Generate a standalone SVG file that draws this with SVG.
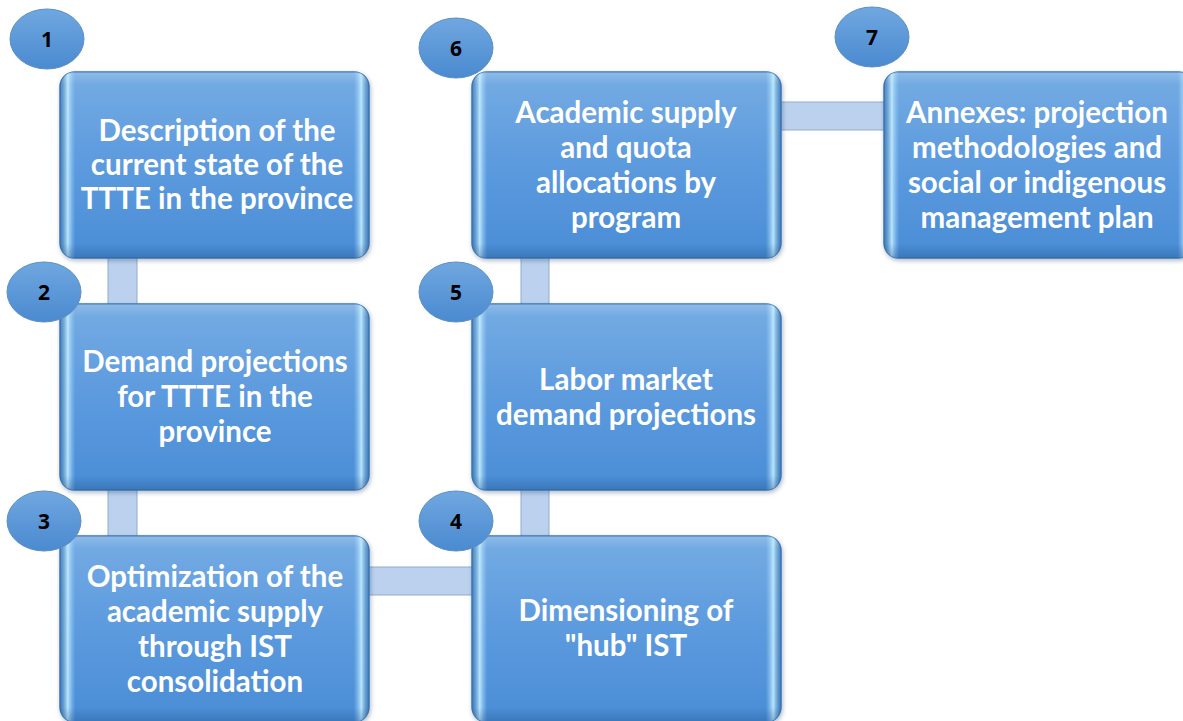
<svg xmlns="http://www.w3.org/2000/svg" width="1183" height="721" viewBox="0 0 1183 721">
  <defs>
    <linearGradient id="boxFill" x1="0" y1="0" x2="0" y2="1">
      <stop offset="0" stop-color="#75ace3"/>
      <stop offset="0.5" stop-color="#5c9ade"/>
      <stop offset="1" stop-color="#4a8dd6"/>
    </linearGradient>
    <linearGradient id="edgeGlow" x1="0" y1="0" x2="1" y2="0">
      <stop offset="0" stop-color="#2f6aa8" stop-opacity="0.55"/>
      <stop offset="0.025" stop-color="#bfeaff" stop-opacity="0.95"/>
      <stop offset="0.05" stop-color="#8fc6f2" stop-opacity="0"/>
      <stop offset="0.95" stop-color="#8fc6f2" stop-opacity="0"/>
      <stop offset="0.975" stop-color="#bfeaff" stop-opacity="0.95"/>
      <stop offset="1" stop-color="#2f6aa8" stop-opacity="0.55"/>
    </linearGradient>
    <linearGradient id="edgeShade" x1="0" y1="0" x2="0" y2="1">
      <stop offset="0" stop-color="#ffffff" stop-opacity="0.18"/>
      <stop offset="0.07" stop-color="#ffffff" stop-opacity="0"/>
      <stop offset="0.92" stop-color="#1f4f86" stop-opacity="0"/>
      <stop offset="1" stop-color="#1f4f86" stop-opacity="0.35"/>
    </linearGradient>
    <linearGradient id="badgeFill" x1="0" y1="0" x2="0" y2="1">
      <stop offset="0" stop-color="#70a7e0"/>
      <stop offset="1" stop-color="#4a8ad0"/>
    </linearGradient>
    <filter id="shadow" x="-10%" y="-10%" width="120%" height="120%">
      <feDropShadow dx="1" dy="2" stdDeviation="2" flood-color="#1d3d63" flood-opacity="0.35"/>
    </filter>
    <style>
      .box-base { fill: url(#boxFill); stroke: #3d75b2; stroke-width: 1.5; }
      .box-edge { fill: url(#edgeGlow); }
      .box-shade { fill: url(#edgeShade); }
      .bar { fill: #bcd1ee; stroke: #92abcf; stroke-width: 1; }
      .badge { fill: url(#badgeFill); stroke: #5e8fc4; stroke-width: 1; }
      .label { font-family: Lato, "Open Sans", "Liberation Sans", sans-serif; font-weight: bold; font-size: 29.5px; fill: #ffffff; text-anchor: middle; }
      .num { font-family: "Open Sans", "Liberation Sans", sans-serif; font-weight: bold; font-size: 21px; fill: #000000; text-anchor: middle; }
    </style>
  </defs>

  <!-- connecting bars between steps -->
  <g id="connectors">
    <rect class="bar" x="108" y="250" width="29" height="62"/>
    <rect class="bar" x="108" y="482" width="29" height="62"/>
    <rect class="bar" x="361" y="567" width="119" height="28"/>
    <rect class="bar" x="521" y="482" width="28" height="62"/>
    <rect class="bar" x="521" y="250" width="28" height="62"/>
    <rect class="bar" x="773" y="102" width="119" height="28"/>
  </g>

  <g id="node1">
    <g filter="url(#shadow)"><rect class="box-base" x="60" y="72" width="309" height="186" rx="15"/></g>
    <rect class="box-edge" x="60" y="72" width="309" height="186" rx="15"/>
    <rect class="box-shade" x="60" y="72" width="309" height="186" rx="15"/>
    <text class="label" x="217" y="141">Description of the</text>
    <text class="label" x="217" y="175">current state of the</text>
    <text class="label" x="217" y="209">TTTE in the province</text>
  </g>

  <g id="node2">
    <g filter="url(#shadow)"><rect class="box-base" x="60" y="304" width="309" height="186" rx="15"/></g>
    <rect class="box-edge" x="60" y="304" width="309" height="186" rx="15"/>
    <rect class="box-shade" x="60" y="304" width="309" height="186" rx="15"/>
    <text class="label" x="215" y="372">Demand projections</text>
    <text class="label" x="215" y="407">for TTTE in the</text>
    <text class="label" x="215" y="442">province</text>
  </g>

  <g id="node3">
    <g filter="url(#shadow)"><rect class="box-base" x="60" y="536" width="309" height="186" rx="15"/></g>
    <rect class="box-edge" x="60" y="536" width="309" height="186" rx="15"/>
    <rect class="box-shade" x="60" y="536" width="309" height="186" rx="15"/>
    <text class="label" x="215" y="587">Optimization of the</text>
    <text class="label" x="215" y="622">academic supply</text>
    <text class="label" x="215" y="657">through IST</text>
    <text class="label" x="215" y="692">consolidation</text>
  </g>

  <g id="node4">
    <g filter="url(#shadow)"><rect class="box-base" x="472" y="536" width="309" height="186" rx="15"/></g>
    <rect class="box-edge" x="472" y="536" width="309" height="186" rx="15"/>
    <rect class="box-shade" x="472" y="536" width="309" height="186" rx="15"/>
    <text class="label" x="626" y="621">Dimensioning of</text>
    <text class="label" x="626" y="656">"hub" IST</text>
  </g>

  <g id="node5">
    <g filter="url(#shadow)"><rect class="box-base" x="472" y="304" width="309" height="186" rx="15"/></g>
    <rect class="box-edge" x="472" y="304" width="309" height="186" rx="15"/>
    <rect class="box-shade" x="472" y="304" width="309" height="186" rx="15"/>
    <text class="label" x="626" y="390">Labor market</text>
    <text class="label" x="626" y="425">demand projections</text>
  </g>

  <g id="node6">
    <g filter="url(#shadow)"><rect class="box-base" x="472" y="72" width="309" height="186" rx="15"/></g>
    <rect class="box-edge" x="472" y="72" width="309" height="186" rx="15"/>
    <rect class="box-shade" x="472" y="72" width="309" height="186" rx="15"/>
    <text class="label" x="626" y="123">Academic supply</text>
    <text class="label" x="626" y="158">and quota</text>
    <text class="label" x="626" y="193">allocations by</text>
    <text class="label" x="626" y="228">program</text>
  </g>

  <g id="node7">
    <g filter="url(#shadow)"><rect class="box-base" x="884" y="72" width="309" height="186" rx="15"/></g>
    <rect class="box-edge" x="884" y="72" width="309" height="186" rx="15"/>
    <rect class="box-shade" x="884" y="72" width="309" height="186" rx="15"/>
    <text class="label" x="1037" y="123">Annexes: projection</text>
    <text class="label" x="1037" y="158">methodologies and</text>
    <text class="label" x="1037" y="193">social or indigenous</text>
    <text class="label" x="1037" y="228">management plan</text>
  </g>

  <!-- step number badges -->
  <g id="badge1"><ellipse class="badge" cx="47" cy="39" rx="37" ry="30"/><text class="num" x="47" y="47">1</text></g>
  <g id="badge2"><ellipse class="badge" cx="44" cy="292" rx="37" ry="30"/><text class="num" x="44" y="300">2</text></g>
  <g id="badge3"><ellipse class="badge" cx="44" cy="521" rx="37" ry="30"/><text class="num" x="44" y="529">3</text></g>
  <g id="badge4"><ellipse class="badge" cx="456" cy="521" rx="37" ry="30"/><text class="num" x="456" y="529">4</text></g>
  <g id="badge5"><ellipse class="badge" cx="456" cy="292" rx="37" ry="30"/><text class="num" x="456" y="300">5</text></g>
  <g id="badge6"><ellipse class="badge" cx="456" cy="48" rx="37" ry="30"/><text class="num" x="456" y="56">6</text></g>
  <g id="badge7"><ellipse class="badge" cx="872" cy="37" rx="37" ry="30"/><text class="num" x="872" y="45">7</text></g>
</svg>
